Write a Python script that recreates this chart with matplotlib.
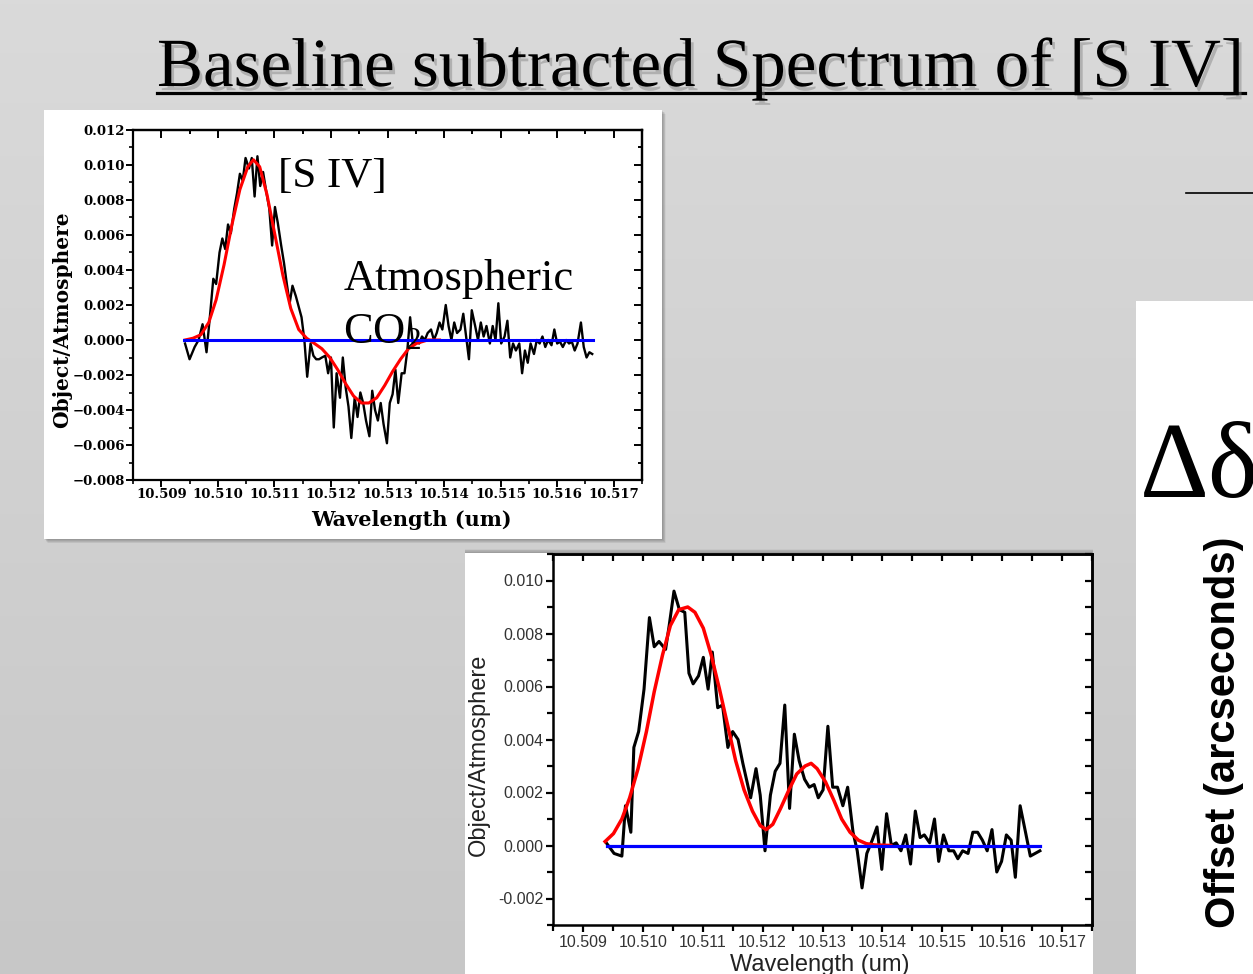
import numpy as np
import matplotlib.pyplot as plt
import matplotlib.patches as mpatches
import matplotlib.patheffects as pe
from matplotlib.colors import LinearSegmentedColormap
from matplotlib.lines import Line2D
from matplotlib.ticker import MultipleLocator, FormatStrFormatter, FuncFormatter

plt.rcParams['mathtext.fontset'] = 'custom'
plt.rcParams['mathtext.rm'] = 'Liberation Serif'
plt.rcParams['mathtext.it'] = 'Liberation Serif:italic'

# ---- upper panel: [S IV] with atmospheric CO2 dip ----
wave1 = [10.50942, 10.50950, 10.50959, 10.50966, 10.50973, 10.50980,
         10.50987, 10.50992, 10.50997, 10.51003, 10.51008, 10.51013, 10.51018, 10.51023,
         10.51029, 10.51034, 10.51039, 10.51044, 10.51049, 10.51055, 10.51060, 10.51065,
         10.51070, 10.51075, 10.51080, 10.51086, 10.51091, 10.51096, 10.51101, 10.51106,
         10.51112, 10.51117, 10.51122, 10.51127, 10.51132, 10.51138, 10.51143, 10.51148,
         10.51153, 10.51158, 10.51164, 10.51169, 10.51174, 10.51179, 10.51184, 10.51190,
         10.51195, 10.51200, 10.51205, 10.51210, 10.51216, 10.51221, 10.51226, 10.51231,
         10.51236, 10.51242, 10.51247, 10.51252, 10.51257, 10.51262, 10.51268, 10.51273,
         10.51278, 10.51283, 10.51288, 10.51293, 10.51299, 10.51304, 10.51309, 10.51314,
         10.51319, 10.51325, 10.51330, 10.51335, 10.51340, 10.51345, 10.51351, 10.51356,
         10.51361, 10.51366, 10.51371, 10.51377, 10.51382, 10.51387, 10.51392, 10.51397,
         10.51403, 10.51408, 10.51413, 10.51418, 10.51423, 10.51429, 10.51434, 10.51439,
         10.51444, 10.51449, 10.51455, 10.51460, 10.51465, 10.51470, 10.51475, 10.51481,
         10.51486, 10.51491, 10.51496, 10.51501, 10.51507, 10.51512, 10.51517, 10.51522,
         10.51527, 10.51533, 10.51538, 10.51543, 10.51548, 10.51553, 10.51559, 10.51564,
         10.51569, 10.51574, 10.51579, 10.51584, 10.51590, 10.51595, 10.51600, 10.51605,
         10.51610, 10.51616, 10.51621, 10.51626, 10.51631, 10.51636, 10.51642, 10.51647,
         10.51652, 10.51657, 10.51662]
ratio1 = [-0.0002, -0.0011, -0.0004, 0.0000, 0.0009, -0.0007,
          0.0017, 0.0035, 0.0032, 0.0050, 0.0058, 0.0052, 0.0066, 0.0061,
          0.0075, 0.0084, 0.0095, 0.0091, 0.0104, 0.0098, 0.0104, 0.0082,
          0.0105, 0.0088, 0.0096, 0.0084, 0.0075, 0.0054, 0.0076, 0.0067,
          0.0054, 0.0044, 0.0032, 0.0021, 0.0031, 0.0025, 0.0019, 0.0013,
          0.0000, -0.0021, -0.0002, -0.0009, -0.0011, -0.0011, -0.0010, -0.0009,
          -0.0019, -0.0010, -0.0050, -0.0019, -0.0033, -0.0010, -0.0027, -0.0038,
          -0.0056, -0.0033, -0.0044, -0.0030, -0.0036, -0.0046, -0.0055, -0.0029,
          -0.0040, -0.0046, -0.0036, -0.0048, -0.0059, -0.0036, -0.0031, -0.0017,
          -0.0036, -0.0019, -0.0019, -0.0006, 0.0013, -0.0003, 0.0000, -0.0002,
          0.0002, 0.0000, 0.0004, 0.0006, 0.0000, 0.0004, 0.0010, 0.0006,
          0.0020, 0.0008, 0.0000, 0.0010, 0.0004, 0.0006, 0.0015, 0.0002,
          -0.0011, 0.0017, 0.0008, 0.0000, 0.0010, 0.0002, 0.0008, -0.0002,
          0.0008, 0.0000, 0.0021, -0.0002, 0.0002, 0.0011, -0.0010, -0.0002,
          -0.0006, -0.0002, -0.0019, -0.0006, -0.0013, -0.0002, -0.0008, 0.0000,
          -0.0002, 0.0002, -0.0004, 0.0000, -0.0003, 0.0006, -0.0002, -0.0001,
          -0.0004, 0.0000, -0.0002, -0.0001, -0.0006, -0.0002, 0.0010, -0.0004,
          -0.0010, -0.0007, -0.0008]

fit_wave1 = [10.50942, 10.50956, 10.50970, 10.50984, 10.50997, 10.51011, 10.51025,
             10.51039, 10.51053, 10.51063, 10.51074, 10.51087, 10.51101, 10.51115,
             10.51129, 10.51143, 10.51157, 10.51171, 10.51184, 10.51198, 10.51212,
             10.51226, 10.51240, 10.51254, 10.51267, 10.51281, 10.51295, 10.51309,
             10.51323, 10.51337, 10.51351, 10.51371, 10.51392]
fit1 = [0.0000, 0.0001, 0.0003, 0.0010, 0.0023, 0.0043, 0.0066,
        0.0086, 0.0099, 0.0103, 0.0099, 0.0083, 0.0060, 0.0037,
        0.0018, 0.0006, 0.0001, -0.0002, -0.0005, -0.0010, -0.0017,
        -0.0025, -0.0032, -0.0036, -0.0036, -0.0033, -0.0026, -0.0018,
        -0.0011, -0.0005, -0.0002, 0.0000, 0.0000]

# ---- lower panel ----
wave2 = [10.50939, 10.50952, 10.50965, 10.50971, 10.50980, 10.50985, 10.50993,
         10.51002, 10.51011, 10.51019, 10.51027, 10.51038, 10.51044, 10.51052,
         10.51061, 10.51070, 10.51077, 10.51084, 10.51093, 10.51101, 10.51109,
         10.51116, 10.51125, 10.51133, 10.51142, 10.51150, 10.51159, 10.51167,
         10.51174, 10.51180, 10.51189, 10.51196, 10.51204, 10.51213, 10.51221,
         10.51229, 10.51237, 10.51245, 10.51253, 10.51261, 10.51270, 10.51278,
         10.51286, 10.51293, 10.51301, 10.51309, 10.51317, 10.51325, 10.51334,
         10.51342, 10.51351, 10.51358, 10.51366, 10.51374, 10.51383, 10.51391,
         10.51399, 10.51407, 10.51415, 10.51423, 10.51431, 10.51439, 10.51447,
         10.51455, 10.51463, 10.51470, 10.51479, 10.51487, 10.51494, 10.51502,
         10.51511, 10.51519, 10.51526, 10.51534, 10.51543, 10.51551, 10.51559,
         10.51567, 10.51575, 10.51583, 10.51591, 10.51599, 10.51607, 10.51615,
         10.51622, 10.51630, 10.51639, 10.51647, 10.51655, 10.51663]
ratio2 = [0.0001, -0.0003, -0.0004, 0.0015, 0.0005, 0.0037, 0.0043,
          0.0059, 0.0086, 0.0075, 0.0077, 0.0074, 0.0083, 0.0096,
          0.0089, 0.0088, 0.0065, 0.0061, 0.0064, 0.0071, 0.0059,
          0.0073, 0.0052, 0.0053, 0.0037, 0.0043, 0.0040, 0.0031,
          0.0024, 0.0018, 0.0029, 0.0019, -0.0002, 0.0019, 0.0028,
          0.0031, 0.0053, 0.0014, 0.0042, 0.0032, 0.0025, 0.0022,
          0.0023, 0.0018, 0.0021, 0.0045, 0.0022, 0.0022, 0.0015,
          0.0022, 0.0005, -0.0002, -0.0016, -0.0003, 0.0002, 0.0007,
          -0.0009, 0.0012, 0.0000, 0.0001, -0.0002, 0.0004, -0.0007,
          0.0013, 0.0003, 0.0004, 0.0001, 0.0010, -0.0006, 0.0004,
          -0.0002, -0.0002, -0.0005, -0.0002, -0.0003, 0.0005, 0.0005,
          0.0002, -0.0002, 0.0006, -0.0010, -0.0006, 0.0004, 0.0002,
          -0.0012, 0.0015, 0.0005, -0.0004, -0.0003, -0.0002]

fit_wave2 = [10.50937, 10.50951, 10.50965, 10.50978, 10.50992, 10.51006, 10.51019,
             10.51033, 10.51046, 10.51060, 10.51075, 10.51087, 10.51101, 10.51114,
             10.51128, 10.51142, 10.51155, 10.51169, 10.51183, 10.51196, 10.51206,
             10.51217, 10.51230, 10.51244, 10.51257, 10.51271, 10.51281, 10.51291,
             10.51305, 10.51319, 10.51332, 10.51346, 10.51360, 10.51373, 10.51387,
             10.51414]
fit2 = [0.00015, 0.00045, 0.0010, 0.0018, 0.0029, 0.0043, 0.0058,
        0.0072, 0.0083, 0.0089, 0.0090, 0.0088, 0.0082, 0.0072,
        0.0059, 0.0045, 0.0032, 0.0021, 0.0013, 0.00075, 0.0006,
        0.0008, 0.0014, 0.0021, 0.0027, 0.0030, 0.0031, 0.0029,
        0.0024, 0.0017, 0.0010, 0.0005, 0.0002, 0.00007, 0.00002,
        0.0]

base_wave = [10.50940, 10.51663]
base_level = [0.0, 0.0]

xticks = [10.509, 10.510, 10.511, 10.512, 10.513, 10.514, 10.515, 10.516, 10.517]

W, H = 1253, 974
fig = plt.figure(figsize=(W / 100, H / 100), dpi=100)


def box(x0, y0, x1, y1):
    # pixel box (top-left origin) -> figure fraction rect
    return [x0 / W, 1 - y1 / H, (x1 - x0) / W, (y1 - y0) / H]


# slide background
bg = fig.add_axes([0, 0, 1, 1])
cmap = LinearSegmentedColormap.from_list('slide', ['#dadada', '#c7c7c7'])
bg.imshow(np.linspace(0, 1, 256)[:, None], cmap=cmap, extent=[0, 1, 0, 1], aspect='auto')
bg.set_xlim(0, 1)
bg.set_ylim(0, 1)
bg.axis('off')


def panel(x0, y0, x1, y1, dx, dy):
    for i in range(1, 9):
        r = box(x0 + dx * i / 2, y0 + dy * i / 2, x1 + dx * i / 2, y1 + dy * i / 2)
        bg.add_patch(mpatches.Rectangle((r[0], r[1]), r[2], r[3], color='black',
                                        alpha=0.035, lw=0, transform=bg.transAxes))
    r = box(x0, y0, x1, y1)
    bg.add_patch(mpatches.Rectangle((r[0], r[1]), r[2], r[3], color='white', lw=0,
                                    transform=bg.transAxes))


panel(44, 110, 662, 539, 1, 1)
panel(465, 553, 1093, 980, 0, -1)
panel(1136, 301, 1260, 980, 0, 0)

# title with a soft drop shadow
title = 'Baseline subtracted Spectrum of [S IV]'
shadow = [pe.SimplePatchShadow(offset=(2, -3), shadow_rgbFace='#808080', alpha=0.45), pe.Normal()]
fig.text(157 / W, 1 - 86 / H, title, fontsize=49.7, family='Liberation Serif',
         color='black', va='baseline', path_effects=shadow)
fig.add_artist(Line2D([157 / W, 1245 / W], [1 - 93 / H, 1 - 93 / H], color='black', lw=2.3,
                      path_effects=shadow))

# right-hand fragments of the next figure
fig.add_artist(Line2D([1186 / W, 1253 / W], [1 - 193 / H, 1 - 193 / H], color='black', lw=1.2))
fig.text(1140 / W, 1 - 497 / H, 'Δδ', fontsize=77, family='Liberation Serif', va='baseline')
fig.text(1224 / W, 1 - 732 / H, 'Offset (arcseconds)', fontsize=30, family='Liberation Sans',
         weight='bold', rotation=90, ha='center', va='center')

# ---------------- upper panel ----------------
ax1 = fig.add_axes(box(133, 130, 642, 480))
ax1.set_facecolor('white')
ax1.plot(wave1, ratio1, color='black', lw=1.7, zorder=2)
ax1.plot(fit_wave1, fit1, color='#ff0000', lw=2.2, zorder=3)
ax1.plot(base_wave, base_level, color='#0000ff', lw=2.2, zorder=4)
ax1.set_xlim(10.5085, 10.5175)
ax1.set_ylim(-0.008, 0.012)
ax1.set_xticks(xticks)
ax1.xaxis.set_major_formatter(FormatStrFormatter('%.3f'))
ax1.xaxis.set_minor_locator(MultipleLocator(0.0005))
ax1.yaxis.set_major_locator(MultipleLocator(0.002))
ax1.yaxis.set_minor_locator(MultipleLocator(0.001))
ax1.yaxis.set_major_formatter(FuncFormatter(lambda v, p: ('%.3f' % v).replace('-', '−')))
serif_b = {'family': 'DejaVu Serif', 'weight': 'bold'}
for lab in ax1.get_xticklabels() + ax1.get_yticklabels():
    lab.set_fontproperties({'family': 'DejaVu Serif', 'weight': 'bold', 'size': 9.5})
ax1.tick_params(which='major', direction='out', length=5, width=1.4, pad=1)
ax1.tick_params(which='minor', direction='out', length=3, width=1.2)
for s in ax1.spines.values():
    s.set_linewidth(1.6)
top1 = ax1.secondary_xaxis('top')
top1.set_xticks(xticks)
top1.xaxis.set_minor_locator(MultipleLocator(0.0005))
top1.tick_params(which='both', direction='in', labeltop=False, width=1.4)
top1.tick_params(which='major', length=6)
top1.tick_params(which='minor', length=3)
right1 = ax1.secondary_yaxis('right')
right1.yaxis.set_major_locator(MultipleLocator(0.002))
right1.yaxis.set_minor_locator(MultipleLocator(0.001))
right1.tick_params(which='both', direction='in', labelright=False, width=1.4)
right1.tick_params(which='major', length=6)
right1.tick_params(which='minor', length=3)
for sec in (top1, right1):
    for s in sec.spines.values():
        s.set_linewidth(1.6)
ax1.set_xlabel('Wavelength (um)', fontsize=15, **serif_b)
ax1.set_ylabel('Object/Atmosphere', fontsize=14.5, **serif_b)
ax1.xaxis.set_label_coords(0.548, -0.085)
ax1.yaxis.set_label_coords(-0.12, 0.457)
ax1.text(0.285, 0.837, '[S IV]', transform=ax1.transAxes, fontsize=31,
         family='Liberation Serif', va='baseline', zorder=5)
ax1.text(0.413, 0.543, 'Atmospheric', transform=ax1.transAxes, fontsize=32,
         family='Liberation Serif', va='baseline', zorder=5)
ax1.text(0.413, 0.391, 'CO$_2$', transform=ax1.transAxes, fontsize=32,
         family='Liberation Serif', va='baseline', zorder=5)

# ---------------- lower panel ----------------
ax2 = fig.add_axes(box(553, 554, 1092, 925))
ax2.set_facecolor('white')
ax2.plot(wave2, ratio2, color='black', lw=2.2, zorder=2)
ax2.plot(fit_wave2, fit2, color='#ff0000', lw=2.5, zorder=3)
ax2.plot(base_wave, base_level, color='#0000ff', lw=2.3, zorder=4)
ax2.set_xlim(10.5085, 10.5175)
ax2.set_ylim(-0.003, 0.011)
ax2.set_xticks(xticks)
ax2.xaxis.set_major_formatter(FormatStrFormatter('%.3f'))
ax2.xaxis.set_minor_locator(MultipleLocator(0.0005))
ax2.yaxis.set_major_locator(MultipleLocator(0.002))
ax2.yaxis.set_minor_locator(MultipleLocator(0.001))
ax2.yaxis.set_major_formatter(FormatStrFormatter('%.3f'))
for lab in ax2.get_xticklabels() + ax2.get_yticklabels():
    lab.set_fontproperties({'family': 'Liberation Sans', 'size': 11.5})
    lab.set_color('#333333')
ax2.tick_params(which='major', direction='out', length=5, width=1.6, pad=2)
ax2.tick_params(which='minor', direction='out', length=4, width=1.6)
for s in ax2.spines.values():
    s.set_linewidth(1.8)
top2 = ax2.secondary_xaxis('top')
top2.set_xticks(xticks)
top2.xaxis.set_minor_locator(MultipleLocator(0.0005))
top2.tick_params(which='both', direction='in', labeltop=False, width=1.6, length=5)
right2 = ax2.secondary_yaxis('right')
right2.yaxis.set_major_locator(MultipleLocator(0.002))
right2.yaxis.set_minor_locator(MultipleLocator(0.001))
right2.tick_params(which='both', direction='in', labelright=False, width=1.6, length=5)
for sec in (top2, right2):
    for s in sec.spines.values():
        s.set_linewidth(1.8)
ax2.set_xlabel('Wavelength (um)', fontsize=17, family='Liberation Sans', color='#222222')
ax2.set_ylabel('Object/Atmosphere', fontsize=17, family='Liberation Sans', color='#222222')
ax2.xaxis.set_label_coords(0.495, -0.078)
ax2.yaxis.set_label_coords(-0.117, 0.458)

fig.savefig('out.png', dpi=100)
